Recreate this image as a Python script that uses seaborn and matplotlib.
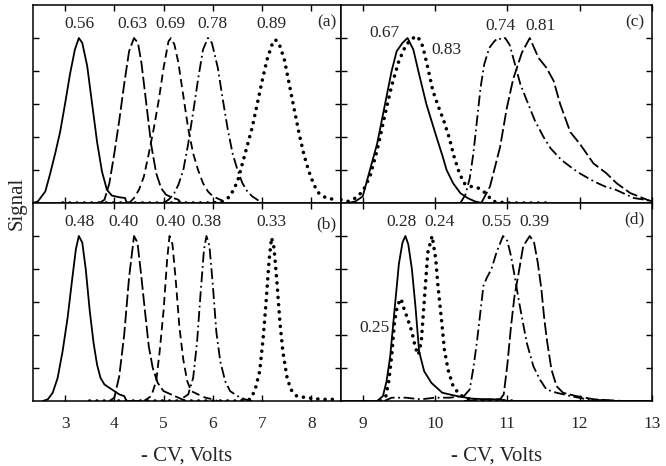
import numpy as np
import pandas as pd
import matplotlib
matplotlib.use("Agg")
import matplotlib.pyplot as plt
import seaborn as sns

# -----------------------------
# Data (normalised signal)
# -----------------------------
# panel (a)
a_solid_x = [2.35, 2.45, 2.6, 2.7, 2.8, 2.9, 3.0, 3.1, 3.2, 3.28, 3.35, 3.45, 3.55, 3.65, 3.75, 3.85, 3.95, 4.1, 4.22, 4.25, 4.5]
a_solid_y = [0.0, 0.01, 0.07, 0.18, 0.3, 0.43, 0.6, 0.78, 0.93, 1.0, 0.97, 0.83, 0.6, 0.37, 0.19, 0.08, 0.045, 0.035, 0.03, 0.0, 0.0]
a_long_x = [3.7, 3.8, 3.9, 4.0, 4.1, 4.2, 4.3, 4.4, 4.48, 4.55, 4.65, 4.75, 4.85, 4.95, 5.05, 5.2, 5.3, 5.35, 5.5]
a_long_y = [0.0, 0.02, 0.12, 0.3, 0.5, 0.72, 0.92, 1.0, 0.97, 0.85, 0.6, 0.35, 0.18, 0.09, 0.05, 0.03, 0.02, 0.0, 0.0]
a_dash_x = [4.3, 4.4, 4.5, 4.6, 4.7, 4.8, 4.9, 5.0, 5.1, 5.15, 5.22, 5.3, 5.4, 5.5, 5.6, 5.7, 5.8, 5.9, 6.0, 6.15, 6.3]
a_dash_y = [0.0, 0.03, 0.08, 0.16, 0.3, 0.45, 0.62, 0.82, 0.98, 1.0, 0.96, 0.85, 0.65, 0.45, 0.3, 0.2, 0.12, 0.07, 0.04, 0.02, 0.0]
a_dashdot_x = [5.0, 5.1, 5.2, 5.3, 5.4, 5.5, 5.6, 5.7, 5.8, 5.9, 5.98, 6.1, 6.2, 6.3, 6.4, 6.5, 6.6, 6.7, 6.8, 6.9, 7.0]
a_dashdot_y = [0.0, 0.02, 0.05, 0.11, 0.2, 0.36, 0.55, 0.75, 0.93, 1.0, 0.97, 0.82, 0.63, 0.45, 0.3, 0.2, 0.12, 0.07, 0.04, 0.02, 0.0]
a_dot_x = [2.95, 3.5, 4.0, 4.5, 5.0, 5.5, 6.0, 6.2, 6.35, 6.5, 6.6, 6.7, 6.8, 6.9, 7.0, 7.1, 7.2, 7.27, 7.35, 7.45, 7.55, 7.65, 7.75, 7.85, 7.95, 8.05, 8.15, 8.3, 8.5]
a_dot_y = [0.0, 0.0, 0.0, 0.0, 0.0, 0.0, 0.0, 0.01, 0.04, 0.13, 0.24, 0.35, 0.46, 0.6, 0.74, 0.87, 0.96, 0.99, 0.96, 0.87, 0.72, 0.57, 0.42, 0.29, 0.19, 0.11, 0.06, 0.03, 0.02]
a_labels = ["0.56", "0.63", "0.69", "0.78", "0.89"]
a_label_x = [3.3, 4.37, 5.14, 6.0, 7.19]

# panel (b)
b_solid_x = [2.55, 2.65, 2.75, 2.85, 2.95, 3.05, 3.15, 3.22, 3.28, 3.35, 3.42, 3.5, 3.58, 3.65, 3.72, 3.8, 3.9, 4.0, 4.1, 4.2, 4.25, 4.5]
b_solid_y = [0.0, 0.01, 0.05, 0.14, 0.3, 0.5, 0.75, 0.92, 1.0, 0.96, 0.8, 0.55, 0.35, 0.22, 0.14, 0.1, 0.08, 0.06, 0.04, 0.03, 0.0, 0.0]
b_long_x = [3.9, 4.0, 4.1, 4.2, 4.3, 4.4, 4.47, 4.55, 4.62, 4.7, 4.78, 4.88, 5.0, 5.15, 5.3, 5.45]
b_long_y = [0.0, 0.02, 0.15, 0.4, 0.75, 1.0, 0.96, 0.75, 0.55, 0.33, 0.2, 0.11, 0.06, 0.04, 0.02, 0.0]
b_dash_x = [4.6, 4.75, 4.85, 4.92, 5.0, 5.07, 5.12, 5.18, 5.25, 5.32, 5.4, 5.48, 5.56, 5.7, 5.85, 6.0, 6.1]
b_dash_y = [0.0, 0.03, 0.12, 0.3, 0.55, 0.85, 1.0, 0.95, 0.72, 0.45, 0.25, 0.12, 0.06, 0.04, 0.02, 0.01, 0.0]
b_dashdot_x = [5.4, 5.5, 5.6, 5.68, 5.75, 5.82, 5.87, 5.93, 6.0, 6.07, 6.15, 6.25, 6.35, 6.5, 6.65, 6.8]
b_dashdot_y = [0.02, 0.04, 0.14, 0.36, 0.65, 0.92, 1.0, 0.94, 0.7, 0.42, 0.24, 0.12, 0.06, 0.03, 0.01, 0.0]
b_dot_x = [3.5, 4.0, 4.5, 5.0, 5.5, 6.0, 6.5, 6.75, 6.85, 6.95, 7.02, 7.08, 7.14, 7.19, 7.24, 7.3, 7.36, 7.42, 7.5, 7.58, 7.7, 7.9, 8.2, 8.5]
b_dot_y = [0.0, 0.0, 0.0, 0.0, 0.0, 0.0, 0.0, 0.01, 0.06, 0.18, 0.38, 0.6, 0.85, 0.99, 0.93, 0.72, 0.48, 0.3, 0.15, 0.07, 0.03, 0.02, 0.01, 0.01]
b_labels = ["0.48", "0.40", "0.40", "0.38", "0.33"]
b_label_x = [3.3, 4.18, 5.15, 5.87, 7.19]

# panel (c)
c_solid_x = [8.8, 8.9, 9.0, 9.1, 9.2, 9.3, 9.4, 9.47, 9.55, 9.62, 9.7, 9.78, 9.88, 9.95, 10.02, 10.1, 10.16, 10.25, 10.35, 10.45, 10.55, 10.65]
c_solid_y = [0.0, 0.01, 0.04, 0.2, 0.36, 0.58, 0.8, 0.92, 0.97, 1.0, 0.93, 0.78, 0.6, 0.5, 0.4, 0.29, 0.2, 0.12, 0.06, 0.03, 0.01, 0.0]
c_dot_x = [8.7, 8.8, 8.9, 9.0, 9.1, 9.2, 9.3, 9.4, 9.5, 9.6, 9.7, 9.76, 9.83, 9.9, 9.97, 10.05, 10.12, 10.2, 10.27, 10.33, 10.4, 10.5, 10.6, 10.7, 10.8, 11.0, 11.3, 11.6]
c_dot_y = [0.02, 0.01, 0.03, 0.07, 0.16, 0.32, 0.52, 0.71, 0.86, 0.96, 1.0, 1.01, 0.95, 0.82, 0.68, 0.58, 0.5, 0.39, 0.27, 0.19, 0.12, 0.1, 0.09, 0.06, 0.01, 0.0, 0.0, 0.0]
c_dashdot_x = [10.35, 10.42, 10.48, 10.53, 10.58, 10.63, 10.68, 10.75, 10.82, 10.87, 10.92, 10.97, 11.03, 11.1, 11.18, 11.27, 11.38, 11.5, 11.6, 11.75, 11.9, 12.0, 12.2, 12.35, 12.5, 12.6, 12.75, 12.9, 13.0]
c_dashdot_y = [0.0, 0.05, 0.15, 0.3, 0.5, 0.7, 0.84, 0.94, 0.98, 1.0, 0.99, 1.0, 0.96, 0.85, 0.72, 0.62, 0.5, 0.4, 0.33, 0.26, 0.21, 0.18, 0.13, 0.1, 0.08, 0.06, 0.03, 0.02, 0.01]
c_long_x = [10.64, 10.76, 10.9, 10.99, 11.08, 11.2, 11.31, 11.43, 11.54, 11.64, 11.73, 11.87, 12.0, 12.19, 12.37, 12.51, 12.7, 12.93, 13.0]
c_long_y = [0.0, 0.1, 0.34, 0.57, 0.75, 0.91, 1.0, 0.88, 0.82, 0.74, 0.6, 0.43, 0.36, 0.24, 0.18, 0.12, 0.06, 0.02, 0.01]
c_labels = ["0.67", "0.83", "0.74", "0.81"]
c_label_x = [9.3, 10.16, 10.9, 11.46]
c_label_y = [1.03, 0.93, 1.07, 1.07]

# panel (d)
d_solid_x = [8.7, 9.0, 9.2, 9.28, 9.33, 9.38, 9.44, 9.5, 9.55, 9.59, 9.63, 9.68, 9.73, 9.78, 9.85, 9.95, 10.1, 10.3, 10.5, 10.7, 10.9, 11.0, 12.0, 13.0]
d_solid_y = [0.0, 0.0, 0.0, 0.03, 0.12, 0.27, 0.55, 0.83, 0.96, 1.0, 0.95, 0.8, 0.57, 0.3, 0.18, 0.11, 0.05, 0.03, 0.015, 0.01, 0.01, 0.0, 0.0, 0.0]
d_dot_x = [9.25, 9.32, 9.36, 9.4, 9.44, 9.48, 9.53, 9.57, 9.62, 9.68, 9.73, 9.77, 9.81, 9.86, 9.9, 9.96, 10.01, 10.04, 10.09, 10.13, 10.18, 10.25, 10.32, 10.4, 10.6, 11.1]
d_dot_y = [0.0, 0.03, 0.12, 0.27, 0.48, 0.58, 0.62, 0.56, 0.5, 0.42, 0.32, 0.28, 0.36, 0.66, 0.9, 1.0, 0.86, 0.7, 0.49, 0.31, 0.19, 0.09, 0.05, 0.02, 0.0, 0.0]
d_dashdot_x = [9.3, 9.4, 9.6, 9.8, 10.0, 10.2, 10.4, 10.48, 10.53, 10.58, 10.63, 10.67, 10.72, 10.78, 10.85, 10.94, 11.0, 11.05, 11.1, 11.15, 11.2, 11.27, 11.36, 11.45, 11.54, 11.68, 11.87, 12.1, 12.5, 13.0]
d_dashdot_y = [0.0, 0.02, 0.02, 0.01, 0.02, 0.02, 0.03, 0.07, 0.2, 0.36, 0.55, 0.7, 0.75, 0.8, 0.9, 1.0, 0.97, 0.88, 0.76, 0.63, 0.51, 0.35, 0.21, 0.13, 0.07, 0.05, 0.03, 0.01, 0.0, 0.0]
d_long_x = [10.4, 10.7, 10.9, 10.95, 11.0, 11.05, 11.1, 11.15, 11.22, 11.31, 11.37, 11.42, 11.47, 11.51, 11.55, 11.61, 11.68, 11.77, 11.95, 12.2, 12.6, 13.0]
d_long_y = [0.0, 0.01, 0.01, 0.04, 0.22, 0.45, 0.64, 0.76, 0.94, 1.0, 0.96, 0.84, 0.68, 0.5, 0.36, 0.19, 0.09, 0.05, 0.03, 0.01, 0.0, 0.0]
d_labels = ["0.28", "0.24", "0.55", "0.39", "0.25"]
d_label_x = [9.53, 10.06, 10.85, 11.38, 9.16]
d_label_y = [1.083, 1.083, 1.083, 1.083, 0.44]

# -----------------------------
# Styles
# -----------------------------
styles = {
    "solid": dict(linestyle="-", lw=1.3),
    "long": dict(linestyle=(0, (7, 2)), lw=1.3),
    "dash": dict(linestyle=(0, (4.5, 2.5)), lw=1.3),
    "dashdot": dict(linestyle=(0, (6, 2, 1, 2)), lw=1.3),
    "dot": dict(linestyle=(0, (0.01, 2.0)), lw=2.6, dash_capstyle="round"),
}

sns.set_style("ticks")
plt.rcParams["font.family"] = ["Liberation Serif", "DejaVu Serif"]

fig, axes = plt.subplots(2, 2, figsize=(6.66, 4.66), dpi=100,
                         gridspec_kw={"width_ratios": [308, 311]})
fig.subplots_adjust(left=33/666, right=652/666, top=1-5/466, bottom=1-401/466,
                    wspace=0, hspace=0)


def draw(ax, x, y, kind):
    df = pd.DataFrame({"x": x, "y": y})
    sns.lineplot(data=df, x="x", y="y", ax=ax, color="black",
                 estimator=None, sort=False, **styles[kind])


ax = axes[0, 0]
draw(ax, a_solid_x, a_solid_y, "solid")
draw(ax, a_long_x, a_long_y, "long")
draw(ax, a_dash_x, a_dash_y, "dash")
draw(ax, a_dashdot_x, a_dashdot_y, "dashdot")
draw(ax, a_dot_x, a_dot_y, "dot")
for t, xx in zip(a_labels, a_label_x):
    ax.text(xx, 1.085, t, ha="center", va="center", fontsize=12.5)

ax = axes[1, 0]
draw(ax, b_solid_x, b_solid_y, "solid")
draw(ax, b_long_x, b_long_y, "long")
draw(ax, b_dash_x, b_dash_y, "dash")
draw(ax, b_dashdot_x, b_dashdot_y, "dashdot")
draw(ax, b_dot_x, b_dot_y, "dot")
for t, xx in zip(b_labels, b_label_x):
    ax.text(xx, 1.083, t, ha="center", va="center", fontsize=12.5)

ax = axes[0, 1]
draw(ax, c_solid_x, c_solid_y, "solid")
draw(ax, c_dot_x, c_dot_y, "dot")
draw(ax, c_dashdot_x, c_dashdot_y, "dashdot")
draw(ax, c_long_x, c_long_y, "long")
for t, xx, yy in zip(c_labels, c_label_x, c_label_y):
    ax.text(xx, yy, t, ha="center", va="center", fontsize=12.5)

ax = axes[1, 1]
draw(ax, d_solid_x, d_solid_y, "solid")
draw(ax, d_dot_x, d_dot_y, "dot")
draw(ax, d_dashdot_x, d_dashdot_y, "dashdot")
draw(ax, d_long_x, d_long_y, "long")
for t, xx, yy in zip(d_labels, d_label_x, d_label_y):
    ax.text(xx, yy, t, ha="center", va="center", fontsize=12.5)

panel_tags = ["(a)", "(c)", "(b)", "(d)"]
tag_pos = [(0.985, 0.91), (0.975, 0.91), (0.985, 0.89), (0.975, 0.915)]

for i, ax in enumerate(axes.flat):
    col = i % 2
    if col == 0:
        ax.set_xlim(2.35, 8.6)
        ax.set_xticks([3, 4, 5, 6, 7, 8])
    else:
        ax.set_xlim(8.7, 13.0)
        ax.set_xticks([9, 10, 11, 12, 13])
    ax.set_ylim(0, 1.2)
    ax.set_yticks([0.2, 0.4, 0.6, 0.8, 1.0])
    ax.set_yticklabels([])
    ax.set_ylabel("")
    ax.tick_params(direction="in", length=4, width=1, top=True, right=True,
                   labelsize=12.5, pad=11, color="black")
    for s in ax.spines.values():
        s.set_linewidth(1.1)
        s.set_color("black")
    ax.text(tag_pos[i][0], tag_pos[i][1], panel_tags[i], transform=ax.transAxes,
            ha="right", va="center", fontsize=12.5)
    if i < 2:
        ax.set_xticklabels([])
        ax.set_xlabel("")
    else:
        ax.set_xlabel("- CV, Volts", fontsize=15, labelpad=10)

fig.text(17/666, 1-203/466, "Signal", rotation=90, ha="center", va="center",
         fontsize=15)

plt.savefig("out.png", dpi=100)
plt.close()
